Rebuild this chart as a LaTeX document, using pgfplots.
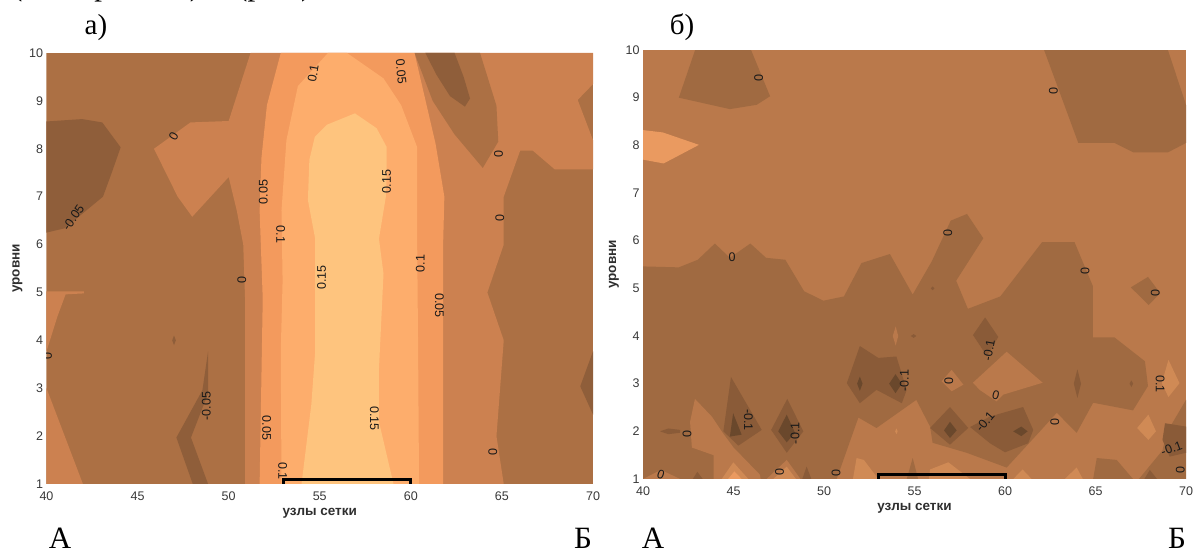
\documentclass[border=0pt]{standalone}
\usepackage{pgfplots}
\pgfplotsset{compat=1.18}
\usepackage{fontspec}
\setmainfont{Liberation Serif}
\newfontfamily\lsans{Liberation Sans}
\definecolor{A1}{HTML}{8F5E3A}
\definecolor{A2}{HTML}{AC7044}
\definecolor{A3}{HTML}{CC8150}
\definecolor{A4}{HTML}{F39A5D}
\definecolor{A5}{HTML}{FDAD6C}
\definecolor{A6}{HTML}{FEC47E}
\definecolor{BT}{HTML}{BA794B}
\definecolor{BM}{HTML}{A06A41}
\definecolor{BD}{HTML}{8A5B38}
\definecolor{BE}{HTML}{6A482C}
\definecolor{BL}{HTML}{D08A55}
\definecolor{BH}{HTML}{EA9A60}
\newcommand{\poly}[2]{\addplot[fill=#1,draw=none,forget plot] coordinates {#2} -- cycle;}
\newcommand{\cl}[4][90]{\node[rotate=#1,font=\lsans\fontsize{12.5}{13}\selectfont,text=black!90,inner sep=0pt] at (axis cs:#2,#3) {#4};}
\pgfplotsset{mychart/.style={
  scale only axis, xmin=40, xmax=70, ymin=1, ymax=10,
  xtick={40,45,50,55,60,65,70}, ytick={1,2,3,4,5,6,7,8,9,10},
  major tick length=0pt, axis line style={draw=none},
  /pgf/number format/assume math mode=true,
  tick label style={font=\lsans\fontsize{12.5}{13}\selectfont,text=black!78},
  xticklabel style={yshift=-4pt}, yticklabel style={xshift=0pt},
  xlabel={узлы сетки}, ylabel={уровни},
  every axis x label/.style={at={(axis description cs:0.5,0)},anchor=center,yshift=-29pt,font=\lsans\bfseries\fontsize{13.5}{14}\selectfont,text=black!82},
  every axis y label/.style={at={(axis description cs:0,0.5)},anchor=center,rotate=90,yshift=29pt,font=\lsans\bfseries\fontsize{13.5}{14}\selectfont,text=black!82},
}}
\begin{document}
\begin{tikzpicture}[x=1pt,y=1pt]
\useasboundingbox (0,0) rectangle (1194,551);
\begin{axis}[mychart, at={(46.5pt,67pt)}, anchor=south west, width=546.5pt, height=431pt]
\poly{A2}{(40,1)(70,1)(70,10)(40,10)}
\poly{A3}{(51.2,10)(50,8.58)(47.9,8.55)(45.9,8)(47.2,7)(48,6.58)(50,7.41)(50.45,6.7)(50.8,6)(50.9,4.87)(50.9,1)(65.1,1)(64.7,2)(65.1,4)(64.2,5)(65.1,6)(65.1,7)(66,7.96)(66.7,7.96)(67.9,7.57)(70,7.57)(70,8.18)(69.16,9.02)(70,9.35)(70,10)}
\poly{A2}{(60.2,10)(61.2,9)(62.4,8.3)(63.95,7.6)(64.8,8.15)(64.7,8.9)(63.8,10)}
\poly{A1}{(60.8,10)(61.4,9.55)(62.15,9.1)(62.97,8.88)(63.25,9.05)(62.9,9.5)(62.4,10)}
\poly{A3}{(40,5.02)(42.05,5.02)(42.05,4.98)(41.05,4.96)(40.6,4.5)(40,3.77)}
\poly{A3}{(40,3)(42,1)(40,1)}
\poly{A1}{(40,8.57)(41.95,8.62)(43.06,8.55)(44.07,8.03)(43.6,7.52)(43.1,7)(41,6.34)(40,6.25)}
\poly{A1}{(48.87,3.77)(48.56,2.96)(47.13,1.97)(48.03,1)(48.87,1)(47.93,1.97)(48.87,2.89)}
\poly{A1}{(70,3.77)(69.3,3.04)(70,2.45)}
\poly{A1}{(46.9,4)(47,4.1)(47.1,4)(47,3.9)}
\poly{A4}{(52.86,10)(52.1,8.91)(51.8,7.81)(51.7,6.71)(51.87,4.87)(51.7,1)(61.77,1)(61.77,5.97)(61.84,7)(61.36,8.1)(60.2,10)}
\poly{A5}{(55.45,10)(53.8,9.31)(53.17,8.18)(52.9,6.71)(52.96,5.24)(52.86,3.77)(52.9,1)(60.45,1)(60.4,3.77)(60.35,5.97)(60.35,8.03)(59.47,8.91)(58.5,9.47)(56.5,10)}
\poly{A6}{(56.93,8.74)(55.38,8.5)(54.73,8.25)(54.43,7.77)(54.35,6.93)(54.75,6.12)(54.75,3.77)(54.54,2.67)(54,1)(59.05,1)(58.25,2.3)(58.25,3.4)(58.5,5.39)(58.25,6.12)(58.63,7)(58.67,7.42)(58.67,8.04)(58.12,8.43)}
\addplot[black,line width=3pt,forget plot] coordinates {(53,1)(53,1.1)(60,1.1)(60,1)};
\cl[80]{54.64}{9.57}{0.1}
\cl[60]{46.98}{8.27}{0}
\cl[55]{41.47}{6.56}{-0.05}
\cl{51.9}{7.1}{0.05}
\cl[-90]{52.86}{6.21}{0.1}
\cl{50.72}{5.26}{0}
\cl{55.1}{5.31}{0.15}
\cl{58.67}{7.31}{0.15}
\cl{60.52}{5.6}{0.1}
\cl[-90]{61.57}{4.73}{0.05}
\cl[-85]{59.47}{9.61}{0.05}
\cl{64.82}{7.88}{0}
\cl{64.88}{6.56}{0}
\cl{64.5}{1.66}{0}
\cl{48.77}{2.63}{-0.05}
\cl[-90]{52.08}{2.17}{0.05}
\cl[-90]{58}{2.37}{0.15}
\cl[-90]{52.96}{1.27}{0.1}
\cl{40.06}{3.67}{0}
\end{axis}
\begin{axis}[mychart, at={(643pt,72pt)}, anchor=south west, width=543pt, height=429pt]
\poly{BT}{(40,1)(70,1)(70,10)(40,10)}
\poly{BM}{(42.88,10)(41.98,9)(44.8,8.76)(46.28,8.85)(47.02,9.03)(45.97,10)}
\poly{BM}{(62.16,10)(64.05,8.05)(66.05,8.05)(67.1,7.85)(68.99,7.85)(70,8.05)(70,8.85)(69,10)}
\poly{BM}{(40,5.46)(41.98,5.44)(43.03,5.6)(43.97,5.94)(44.8,5.64)(45.93,5.94)(46.8,5.64)(47.86,5.6)(48.9,4.94)(49.96,4.74)(51.1,4.83)(52.07,5.53)(53.64,5.72)(54.9,4.87)(55.96,5.57)(57,6.42)(57.9,6.56)(58.8,6.05)(57.3,5.16)(57.95,4.57)(59.74,4.83)(62.05,5.97)(63.84,5.97)(64.85,5.05)(64.85,3.97)(66.05,3.97)(67.73,3.47)(67.9,2.95)(67.07,2.44)(64.87,2.6)(63.96,1.97)(62.86,2.39)(61.93,2)(60.09,1.24)(57.88,1.55)(56,1.76)(55.86,2.1)(55.1,2.66)(52.9,2.07)(51.9,2.29)(50.7,1)(40,1)}
\poly{BM}{(66.95,5.02)(67.9,5.24)(68.57,4.9)(67.94,4.65)}
\poly{BM}{(64.87,1)(65.07,1.44)(66.17,1.4)(67.07,1)}
\poly{BM}{(67.4,1)(68.7,1.6)(68.93,1.97)(70,2.66)(70,1)}
\poly{BM}{(54.57,1)(54.9,1.44)(55.2,1)}
% lower light patches
\poly{BT}{(40,1)(41,1.19)(42.05,1)}
\poly{BT}{(42.6,2.2)(42.87,2.68)(43.8,2.31)(44.4,1.97)(45,1.66)(46.46,1.09)(46.5,1)(43.9,1)(43.9,1.5)(42.7,1.66)}
\poly{BL}{(44.35,1)(44.99,1.35)(45.82,1)}
\poly{BH}{(44.7,1)(45.05,1.16)(45.45,1)}
\poly{BT}{(46.83,1)(47.94,1.4)(48.7,1)}
\poly{BL}{(47.2,1)(47.94,1.26)(48.45,1)}
\poly{BL}{(51.6,1)(51.8,1.44)(52.2,1.4)(53,1)}
\poly{BL}{(55.8,1)(55.86,1.2)(56.87,1.35)(58.07,1)}
\poly{BL}{(60.46,1)(60.97,1.2)(61.47,1)}
\poly{BL}{(63.3,1)(63.96,1.24)(64.3,1)}
\poly{BH}{(40,8.32)(41.1,8.27)(43.09,8.01)(41.14,7.62)(40,7.7)}
\poly{BT}{(58.23,3.02)(60.09,3.67)(62.08,3.02)(59.9,2.77)(59.53,2.63)(58.6,2.87)}
\poly{BT}{(56.5,3.05)(57.05,3.29)(57.7,2.98)(57.05,2.84)}
\poly{BL}{(69.03,3.5)(69.64,3.01)(69.03,2.72)(68.66,3.01)}
\poly{BL}{(67.92,2.35)(68.34,2)(67.92,1.82)(67.3,2.07)}
\poly{BT}{(53.8,4)(53.96,4.2)(54.1,4)(53.96,3.8)}
\poly{BL}{(53.93,2)(54,2.06)(54.07,2)(54,1.94)}
% darker patches
\poly{BD}{(40.94,2)(41.4,2.06)(42.05,2.03)(42.05,1.97)(41.4,1.94)}
\poly{BD}{(44.86,3.14)(46.56,2.03)(45.27,1.7)(44.44,2)}
\poly{BE}{(44.98,2.38)(45.45,1.93)(44.8,1.89)}
\poly{BD}{(47.97,2.68)(48.86,2)(47.94,1.55)(47.08,2.03)}
\poly{BE}{(47.94,2.35)(48.4,1.97)(47.94,1.77)(47.47,2)}
\poly{BD}{(51.98,3.79)(53,3.54)(54,3.57)(54.57,2.87)(54.3,2.59)(52.9,2.87)(51.98,2.59)(51.26,3.01)}
\poly{BE}{(51.83,3)(51.98,3.15)(52.13,3)(51.98,2.85)}
\poly{BE}{(53.6,3)(53.95,3.2)(54.3,3)(53.95,2.8)}
\poly{BD}{(58.9,4.39)(59.63,3.98)(59,3.58)(58.23,4.02)}
\poly{BD}{(56.96,2.51)(57.97,2.07)(56.96,1.72)(55.86,2.07)}
\poly{BE}{(56.96,2.2)(57.33,2.02)(56.96,1.86)(56.63,2.02)}
\poly{BD}{(58.07,2.09)(59.17,2.31)(61,2.51)(61.56,2.03)(61.28,1.75)(60,1.56)(59.17,1.75)}
\poly{BE}{(60.45,2)(60.9,2.1)(61.25,2)(60.9,1.9)}
\poly{BD}{(63.8,3)(64,3.3)(64.2,3)(64,2.7)}
\poly{BD}{(66.88,3)(66.98,3.07)(67.08,3)(66.98,2.93)}
\poly{BD}{(42.75,1)(43,1.15)(43.3,1)}
\poly{BD}{(48.8,1)(49.04,1.26)(49.3,1)}
\poly{BD}{(67.7,1)(68,1.19)(68.4,1)}
\poly{BD}{(68.84,2.17)(70,2.1)(70,1.55)(69.1,1.47)(68.7,1.82)}
\poly{BD}{(55.9,5)(56,5.04)(56.1,5)(56,4.96)}
\poly{BD}{(54.8,4)(54.95,4.04)(55.1,4)(54.95,3.96)}
\addplot[black,line width=3pt,forget plot] coordinates {(53,1)(53,1.1)(60,1.1)(60,1)};
\cl[-90]{46.39}{9.42}{0}
\cl[-90]{62.68}{9.13}{0}
\cl{56.84}{6.16}{0}
\cl[0]{44.92}{5.66}{0}
\cl{64.43}{5.37}{0}
\cl{68.3}{4.9}{0}
\cl[80]{59.11}{3.7}{-0.1}
\cl{54.44}{3.06}{-0.1}
\cl[-90]{68.57}{2.99}{0.1}
\cl{56.9}{3.05}{0}
\cl[-15]{59.49}{2.75}{0}
\cl[50]{58.9}{2.2}{-0.1}
\cl{62.75}{2.19}{0}
\cl[-90]{45.82}{2.24}{-0.1}
\cl{48.4}{1.96}{-0.1}
\cl{42.44}{1.94}{0}
\cl[-20]{40.99}{1.09}{0}
\cl{47.55}{1.15}{0}
\cl{50.66}{1.13}{0}
\cl{69.68}{1.18}{0}
\cl[20]{69.2}{1.64}{-0.1}
\end{axis}
\begin{scope}[every node/.style={inner sep=0pt,font=\fontsize{31}{33}\selectfont}]
\node[font=\fontsize{29}{31}\selectfont] at (96,523.5) {а)};
\node[font=\fontsize{29}{31}\selectfont] at (682,523.5) {б)};
\node[anchor=base] at (60,2.5) {А};
\node[anchor=base] at (583,2.5) {Б};
\node[anchor=base] at (653,2.5) {А};
\node[anchor=base] at (1177,2.5) {Б};
\node[anchor=base west] at (12,555) {(эксперимент)};
\node[anchor=base west] at (237,555) {(рис.)};
\end{scope}
\end{tikzpicture}
\end{document}
